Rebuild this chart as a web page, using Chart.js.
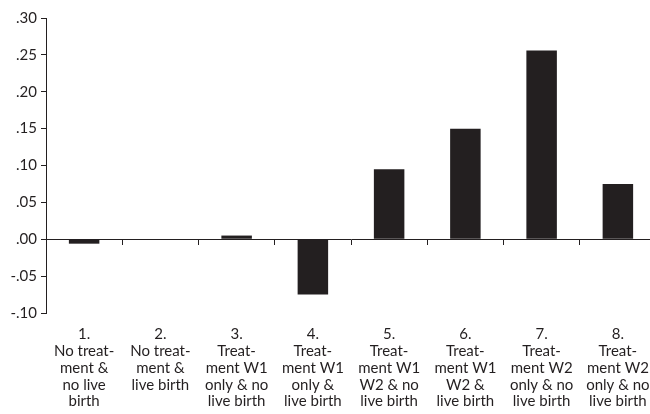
<!DOCTYPE html>
<html>
<head>
<meta charset="utf-8">
<script src="https://cdn.jsdelivr.net/npm/chart.js@4"></script>
<style>
    html, body { margin: 0; padding: 0; background: #fff; overflow: hidden; }
    #wrap { width: 656px; height: 414px; }
</style>
</head>
<body>
<div id="wrap"><canvas id="bar-chart"></canvas></div>
<script>
const categories = [
    ['1.', 'No treat-', 'ment &', 'no live', 'birth'],
    ['2.', 'No treat-', 'ment &', 'live birth'],
    ['3.', 'Treat-', 'ment W1', 'only & no', 'live birth'],
    ['4.', 'Treat-', 'ment W1', 'only &', 'live birth'],
    ['5.', 'Treat-', 'ment W1', 'W2 & no', 'live birth'],
    ['6.', 'Treat-', 'ment W1', 'W2 &', 'live birth'],
    ['7.', 'Treat-', 'ment W2', 'only & no', 'live birth'],
    ['8.', 'Treat-', 'ment W2', 'only & no', 'live birth']
];
const values = [-0.006, 0, 0.005, -0.075, 0.095, 0.15, 0.256, 0.075];
const yTickLabels = ['-.10', '-.05', '.00', '.05', '.10', '.15', '.20', '.25', '.30'];

const ink = '#231f20';
const font = { family: 'Lato', size: 15, lineHeight: 1.12 };

const ctx = document.getElementById('bar-chart').getContext('2d');

const barChart = new Chart(ctx, {
    type: 'bar',
    data: {
        labels: categories,
        datasets: [{
            data: values,
            backgroundColor: ink,
            borderWidth: 0,
            barPercentage: 0.4,
            categoryPercentage: 1.0,
            xAxisID: 'x'
        }]
    },
    options: {
        responsive: true,
        maintainAspectRatio: false,
        animation: false,
        layout: { padding: { top: 18, right: 0, left: 0, bottom: 0 } },
        plugins: {
            legend: { display: false },
            tooltip: { enabled: false }
        },
        scales: {
            x: {
                type: 'category',
                position: { y: 0 },
                offset: true,
                ticks: { display: false },
                grid: { display: true, drawOnChartArea: false, tickLength: 5, color: ink, offset: true },
                border: { display: true, color: ink, width: 1 }
            },
            x2: {
                type: 'category',
                position: 'bottom',
                offset: true,
                // invisible tick marks only push the labels down
                grid: { display: true, drawOnChartArea: false, tickLength: 11, color: 'rgba(0,0,0,0)' },
                border: { display: false },
                ticks: { color: ink, font: font, maxRotation: 0, autoSkip: false, padding: 2 },
                afterFit: (scale) => { scale.height = 101; }
            },
            y: {
                min: -0.10,
                max: 0.30,
                ticks: {
                    stepSize: 0.05,
                    color: ink,
                    font: font,
                    padding: 4,
                    callback: (value, index) => yTickLabels[index]
                },
                grid: { display: true, drawOnChartArea: false, tickLength: 5, color: ink },
                border: { display: true, color: ink, width: 1 },
                afterFit: (scale) => { scale.width = 46; }
            }
        }
    }
});
</script>
</body>
</html>
